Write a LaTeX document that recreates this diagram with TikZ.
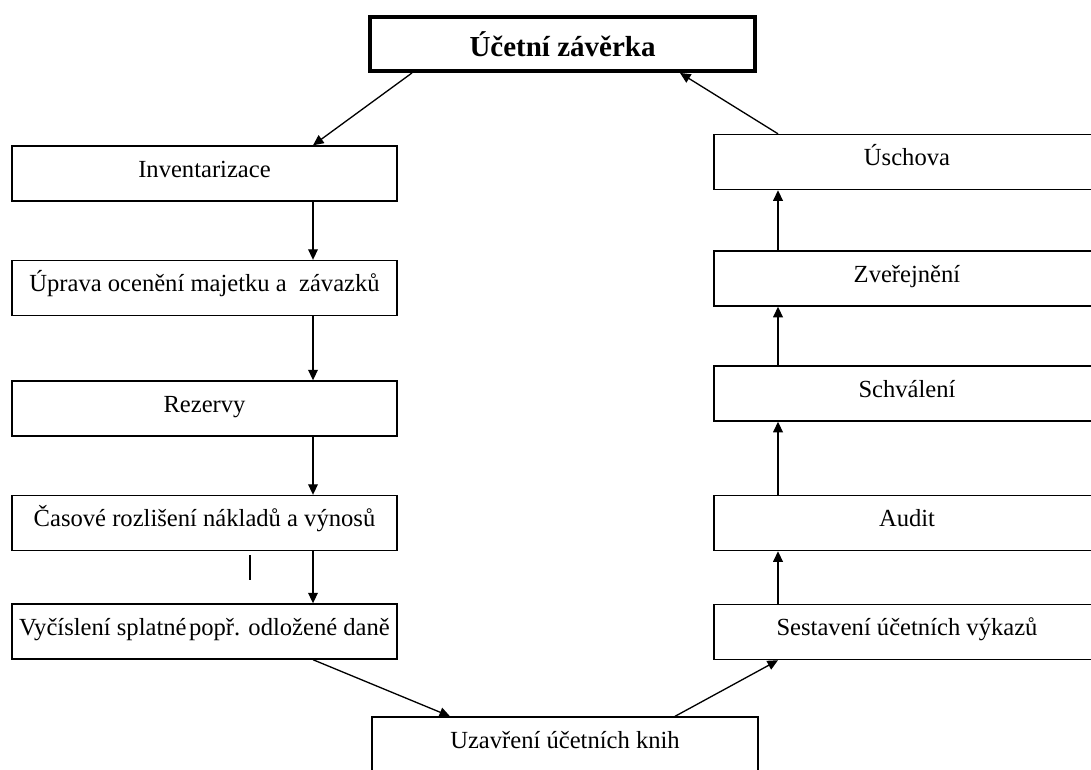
\documentclass[tikz,border=0pt]{standalone}
\usepackage{fontspec}
\setmainfont{Liberation Serif}
\usetikzlibrary{arrows.meta, positioning}
\tikzset{
  stepbox/.style={
    draw=black,
    line width=0.8pt,
    fill=white,
    minimum width=7.7cm,
    minimum height=1.1cm,
    inner sep=0pt,
    font=\fontsize{14}{16}\selectfont,
    text height=10pt,
    text depth=6pt,
  },
  widebox/.style={
    stepbox,
    minimum width=7.72cm,
  },
  titlebox/.style={
    draw=black,
    line width=2.2pt,
    fill=white,
    minimum width=7.7cm,
    minimum height=1.08cm,
    inner sep=0pt,
    font=\fontsize{16.5}{19}\selectfont\bfseries,
  },
  arr/.style={-{Triangle[length=6pt, width=5.5pt]}, line width=0.75pt, draw=black},
}

\begin{document}
\begin{tikzpicture}[x=0.02cm, y=-0.02cm]

\clip (0,0) rectangle (1091,769);

% --- Top ---
\node[titlebox] (zaverka) at (562.5, 44) {Účetní závěrka};

% --- Left column ---
\node[stepbox] (invent) at (204.5, 173.5) {Inventarizace};
\node[stepbox] (uprava) at (204.5, 288) {Úprava ocenění majetku a \ závazků};
\node[stepbox] (rezervy) at (204.5, 408.5) {Rezervy};
\node[stepbox] (casove) at (204.5, 523) {Časové rozlišení nákladů a výnosů};
\node[stepbox] (dane) at (204.5, 631.5) {Vyčíslení splatné\hspace{0.1em}popř. odložené daně};

% --- Right column ---
\node[widebox] (uschova) at (907, 162) {Úschova};
\node[widebox] (zverejneni) at (907, 278.5) {Zveřejnění};
\node[widebox] (schvaleni) at (907, 393.5) {Schválení};
\node[widebox] (audit) at (907, 523) {Audit};
\node[widebox] (vykazy) at (907, 632) {Sestavení účetních výkazů};

% --- Bottom ---
\node[widebox] (knihy) at (565, 744.5) {Uzavření účetních knih};

% --- Helper coordinates ---
\coordinate (lx) at (313, 0);
\coordinate (rx) at (778, 0);
\coordinate (tl) at (412, 0);
\coordinate (tr) at (680, 0);
\coordinate (bl) at (450, 0);
\coordinate (br) at (675, 0);

% --- Arrows: left column down ---
\draw[arr] (zaverka.south -| tl) -- (invent.north -| lx);
\draw[arr] (invent.south -| lx) -- (uprava.north -| lx);
\draw[arr] (uprava.south -| lx) -- (rezervy.north -| lx);
\draw[arr] (rezervy.south -| lx) -- (casove.north -| lx);
\draw[arr] (casove.south -| lx) -- (dane.north -| lx);
\draw[arr] (dane.south -| lx) -- (knihy.north -| bl);

% --- Arrows: right column up ---
\draw[arr] (knihy.north -| br) -- (vykazy.south -| rx);
\draw[arr] (vykazy.north -| rx) -- (audit.south -| rx);
\draw[arr] (audit.north -| rx) -- (schvaleni.south -| rx);
\draw[arr] (schvaleni.north -| rx) -- (zverejneni.south -| rx);
\draw[arr] (zverejneni.north -| rx) -- (uschova.south -| rx);
\draw[arr] (uschova.north -| rx) -- (zaverka.south -| tr);

% --- Stray mark ---
\draw[line width=1.7pt] (250, 555) -- (250, 580);

\end{tikzpicture}
\end{document}
